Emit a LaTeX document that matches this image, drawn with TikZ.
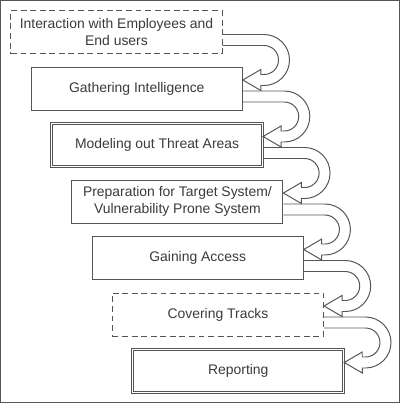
\documentclass[tikz,border=0pt]{standalone}
\usepackage{fontspec}
\setmainfont{Liberation Sans}
\usetikzlibrary{calc}
\definecolor{linegray}{HTML}{555555}
\definecolor{textgray}{HTML}{3A3A3A}

\begin{document}
\begin{tikzpicture}[x=0.025cm, y=-0.025cm,
  every node/.style={font=\fontsize{9.9}{12}\selectfont, text=textgray, align=center},
  stage/.style={draw=linegray, line width=0.7pt, inner sep=0pt,
    minimum width=5.275cm, minimum height=1.075cm},
  dashbox/.style={stage, dash pattern=on 4.2pt off 2.6pt},
  dblbox/.style={stage, double=white, double distance=0.9pt, line width=0.6pt},
  flow/.style={draw=linegray, line width=0.7pt, line join=miter}]
\useasboundingbox (0,0) rectangle (400,403);
% Draw frame
\draw[linegray, line width=1pt] (0.7,0.7) rectangle (399.3,402.3);
% Draw stages
\node[dashbox] (s1) at (116.5,32)  {Interaction with Employees and\\End users};
\node[stage]   (s2) at (136.8,88.5) {Gathering Intelligence};
\node[dblbox]  (s3) at (157.1,145)  {Modeling out Threat Areas};
\node[stage]   (s4) at (177.4,201.5) {Preparation for Target System/\\Vulnerability Prone System};
\node[stage]   (s5) at (197.7,258)  {Gaining Access};
\node[dashbox] (s6) at (218,314.5)  {Covering Tracks};
\node[dblbox]  (s7) at (238.3,371)  {Reporting};
% Draw u-turn arrows
\foreach \a/\b in {s1/s2,s2/s3,s3/s4,s4/s5,s5/s6,s6/s7}
  \draw[flow] ($(\a.east)+(0,2.5)$) -- ++(41.5,0)
    arc[start angle=-90, end angle=90, radius=25.5] -- ++(-3.2,0) -- ++(0,5)
    -- ($(\b.east)+(0,-8.5)$) -- ++(18,-10.5) -- ++(0,5) -- ++(3.2,0)
    arc[start angle=90, end angle=-90, radius=14.5] -- ($(\a.east)+(0,13.5)$);
\end{tikzpicture}
\end{document}
